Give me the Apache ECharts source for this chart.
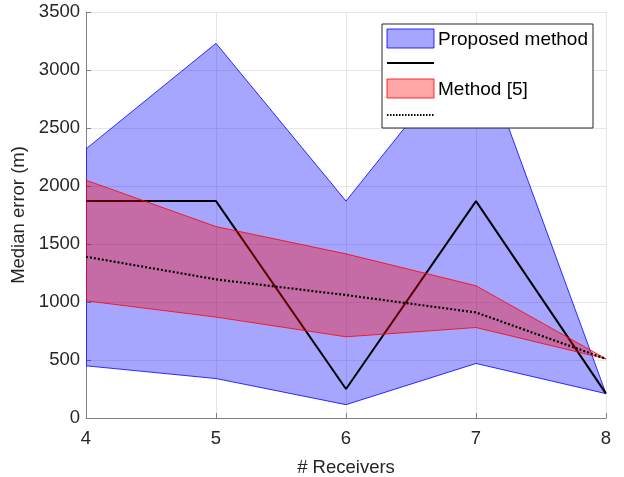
<!DOCTYPE html>
<html>
<head>
<meta charset="utf-8">
<script src="https://cdn.jsdelivr.net/npm/echarts@6/dist/echarts.min.js"></script>
<style>html,body{margin:0;padding:0;background:#fff;}#c{width:624px;height:477px;}</style>
</head>
<body>
<div id="c"></div>
<script>
const receivers = [4, 5, 6, 7, 8];
const proposedLower = [450, 340, 115, 470, 210];
const proposedUpper = [2320, 3230, 1870, 3270, 210];
const proposedMedian = [1870, 1870, 250, 1870, 210];
const refLower = [1010, 870, 700, 780, 510];
const refUpper = [2050, 1650, 1415, 1140, 510];
const refMedian = [1390, 1195, 1060, 910, 510];
const xTicks = [4, 5, 6, 7, 8];
const yTicks = [0, 500, 1000, 1500, 2000, 2500, 3000, 3500];

const FONT = 'Liberation Sans';
const TXT = '#262626';

function bandSeries(lower, upper, fill, stroke, z) {
  return {
    type: 'custom',
    z: z,
    silent: true,
    clip: true,
    data: receivers.map((x, i) => [x, upper[i], lower[i]]),
    encode: { x: 0, y: [1, 2] },
    renderItem: function (params, api) {
      if (params.dataIndex !== 0) return;
      const pts = [];
      for (let i = 0; i < receivers.length; i++) pts.push(api.coord([receivers[i], upper[i]]));
      for (let i = receivers.length - 1; i >= 0; i--) pts.push(api.coord([receivers[i], lower[i]]));
      return { type: 'polygon', shape: { points: pts }, style: { fill: fill, stroke: stroke, lineWidth: 1 } };
    }
  };
}

const chart = echarts.init(document.getElementById('c'), null, { renderer: 'canvas' });
const legX = 382, legY = 24;
chart.setOption({
  animation: false,
  backgroundColor: '#fff',
  grid: { left: 86, right: 18, top: 12, bottom: 59, containLabel: false, outerBoundsMode: 'none' },
  xAxis: {
    type: 'value', min: 4, max: 8, interval: 1,
    name: '# Receivers', nameLocation: 'middle', nameGap: 40,
    nameTextStyle: { fontFamily: FONT, fontSize: 18.5, color: TXT },
    axisLine: { show: true, lineStyle: { color: '#808080', width: 1 } },
    axisTick: { show: true, inside: true, length: 5, lineStyle: { color: '#808080' } },
    axisLabel: { fontFamily: FONT, fontSize: 18.5, color: TXT, margin: 11,
      formatter: v => xTicks.includes(v) ? String(v) : '' },
    splitLine: { show: true, lineStyle: { color: '#e6e6e6', width: 1 } }
  },
  yAxis: {
    type: 'value', min: 0, max: 3500, interval: 500,
    name: 'Median error (m)', nameLocation: 'middle', nameGap: 55,
    nameTextStyle: { fontFamily: FONT, fontSize: 18.5, color: TXT },
    axisLine: { show: true, lineStyle: { color: '#808080', width: 1 } },
    axisTick: { show: true, inside: true, length: 5, lineStyle: { color: '#808080' } },
    axisLabel: { fontFamily: FONT, fontSize: 18.5, color: TXT, margin: 6,
      formatter: v => yTicks.includes(v) ? String(v) : '' },
    splitLine: { show: true, lineStyle: { color: '#e6e6e6', width: 1 } }
  },
  series: [
    bandSeries(proposedLower, proposedUpper, 'rgba(0,0,255,0.35)', 'rgba(0,0,255,0.8)', 1),
    {
      type: 'line', z: 2, silent: true, symbol: 'none',
      data: receivers.map((x, i) => [x, proposedMedian[i]]),
      lineStyle: { color: '#000', width: 2 }
    },
    bandSeries(refLower, refUpper, 'rgba(255,0,0,0.35)', 'rgba(255,0,0,0.8)', 3),
    {
      type: 'line', z: 4, silent: true, symbol: 'none',
      data: receivers.map((x, i) => [x, refMedian[i]]),
      lineStyle: { color: '#000', width: 2.2, type: [2, 2] }
    }
  ],
  graphic: [
    { type: 'rect', z: 100, shape: { x: legX, y: legY, width: 211, height: 104 },
      style: { fill: '#fff', stroke: '#262626', lineWidth: 1 } },
    { type: 'rect', z: 101, shape: { x: legX + 5, y: legY + 5, width: 47, height: 19 },
      style: { fill: 'rgba(0,0,255,0.35)', stroke: 'rgba(0,0,255,0.8)', lineWidth: 1 } },
    { type: 'text', z: 101, style: { x: legX + 56, y: legY + 16, text: 'Proposed method', fontFamily: FONT, fontSize: 19, fill: '#000', verticalAlign: 'middle' } },
    { type: 'line', z: 101, shape: { x1: legX + 5, y1: legY + 39, x2: legX + 52, y2: legY + 39 },
      style: { stroke: '#000', lineWidth: 2 } },
    { type: 'rect', z: 101, shape: { x: legX + 5, y: legY + 55, width: 47, height: 19 },
      style: { fill: 'rgba(255,0,0,0.35)', stroke: 'rgba(255,0,0,0.8)', lineWidth: 1 } },
    { type: 'text', z: 101, style: { x: legX + 56, y: legY + 66, text: 'Method [5]', fontFamily: FONT, fontSize: 19, fill: '#000', verticalAlign: 'middle' } },
    { type: 'line', z: 101, shape: { x1: legX + 5, y1: legY + 91, x2: legX + 52, y2: legY + 91 },
      style: { stroke: '#000', lineWidth: 2, lineDash: [1.5, 1.5] } }
  ]
});
</script>
</body>
</html>
